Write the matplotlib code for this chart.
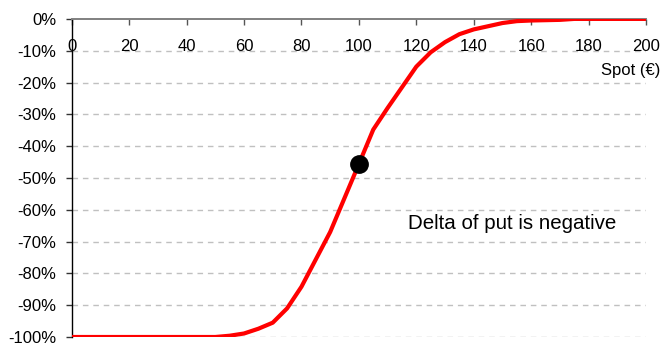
import numpy as np
import matplotlib
matplotlib.use('Agg')
import matplotlib.pyplot as plt

plt.rcParams['font.family'] = ['Liberation Sans', 'DejaVu Sans']

# spot price and put delta (in %)
spot = [0, 10, 20, 30, 40, 50, 55, 60, 65, 70, 75, 80, 85, 90, 95, 100,
        105, 110, 115, 120, 125, 130, 135, 140, 145, 150, 155, 160, 165,
        170, 175, 180, 190, 200]
delta = [-100, -100, -100, -100, -100, -100, -99.6, -98.9, -97.4, -95.5,
         -91.0, -84.2, -75.6, -67.0, -56.3, -45.6, -34.8, -28.0, -21.5,
         -15.0, -10.5, -7.3, -4.8, -3.3, -2.3, -1.3, -0.7, -0.5, -0.4,
         -0.3, 0, 0, 0, 0]
atm_spot = 100
atm_delta = -45.6
x_ticks = np.arange(0, 201, 20)
y_ticks = np.arange(-100, 1, 10)

fig = plt.figure(figsize=(6.64, 3.45), dpi=100)
ax = fig.add_axes([0.108, 0.0232, 0.865, 0.922])

# dashed gridlines
for yv in y_ticks[:-1]:
    ax.axhline(yv, color='#c0c0c0', lw=1, dashes=(4, 3.5), zorder=1)

ax.plot(spot, delta, color='#ff0000', lw=3, zorder=3, solid_joinstyle='round')
ax.plot([atm_spot], [atm_delta], 'o', color='black', ms=12.5, zorder=4)

ax.set_xlim(0, 200)
ax.set_ylim(-100, 0)

ax.spines['bottom'].set_visible(False)
ax.spines['right'].set_visible(False)
ax.spines['top'].set_color('#808080')
ax.spines['top'].set_linewidth(1.4)
ax.spines['left'].set_color('black')
ax.spines['left'].set_linewidth(1)

ax.set_xticks(x_ticks)
ax.set_xticklabels([str(v) for v in x_ticks])
ax.tick_params(axis='x', top=True, bottom=False, labeltop=True, labelbottom=False,
               direction='in', length=4, width=1, color='#555555', pad=-25.5,
               labelsize=12)
ax.set_yticks(y_ticks)
ax.set_yticklabels(['%d%%' % v for v in y_ticks])
ax.tick_params(axis='y', direction='out', length=4, width=1, color='#333333',
               pad=7, labelsize=12)

ax.text(117.1, -64.2, 'Delta of put is negative', fontsize=14.8,
        ha='left', va='center', zorder=5)
fig.text(660 / 664, 1 - 70 / 345, 'Spot (€)', fontsize=12, ha='right', va='center')

fig.savefig('out.png', dpi=100)
